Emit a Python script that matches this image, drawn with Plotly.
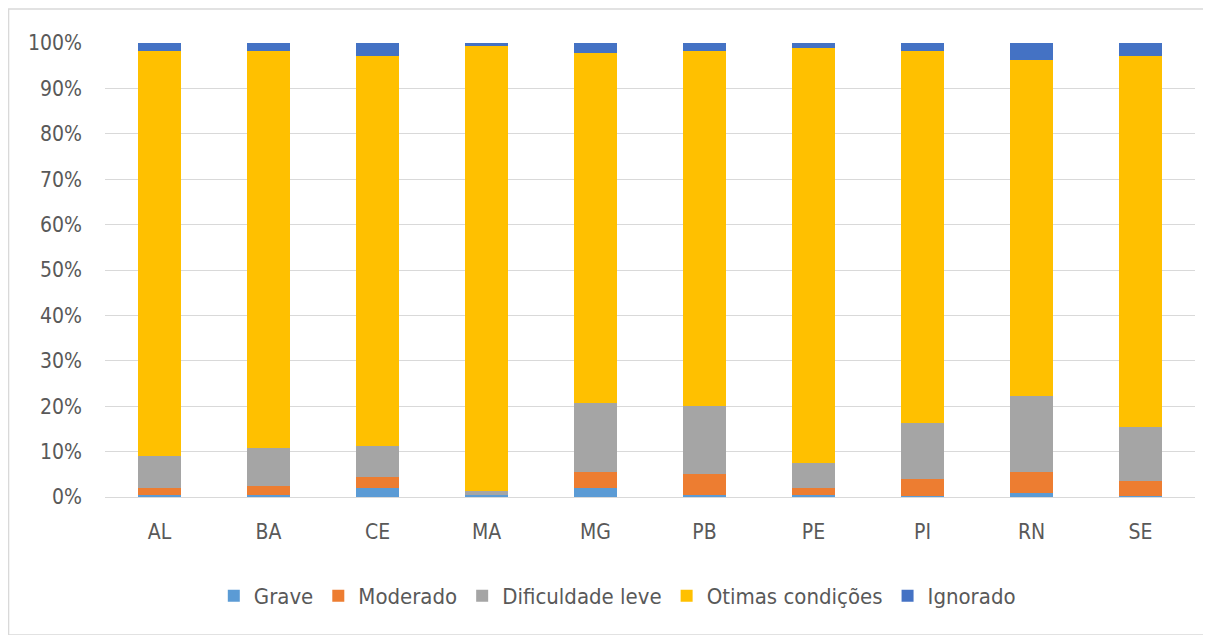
import plotly.graph_objects as go

states = ["AL", "BA", "CE", "MA", "MG", "PB", "PE", "PI", "RN", "SE"]
grave = [0.4, 0.4, 1.9, 0.4, 1.9, 0.4, 0.4, 0.3, 0.8, 0.3]
moderado = [1.5, 2.0, 2.6, 0.0, 3.7, 4.6, 1.5, 3.7, 4.8, 3.2]
dificuldade = [7.2, 8.3, 6.7, 0.9, 15.0, 15.1, 5.7, 12.4, 16.6, 11.9]
otimas = [89.2, 87.6, 86.0, 98.0, 77.2, 78.1, 91.2, 81.9, 74.1, 81.8]
ignorado = [1.7, 1.7, 2.8, 0.7, 2.2, 1.8, 1.2, 1.7, 3.7, 2.8]

series = [
    ("Grave", grave, "#5B9BD5"),
    ("Moderado", moderado, "#ED7D31"),
    ("Dificuldade leve", dificuldade, "#A5A5A5"),
    ("Otimas condições", otimas, "#FFC000"),
    ("Ignorado", ignorado, "#4472C4"),
]

fig = go.Figure()
for name, vals, color in series:
    fig.add_trace(go.Bar(
        x=states, y=[v / 100 for v in vals], name=name,
        marker=dict(color=color, line=dict(width=0)),
    ))

font_family = "Liberation Sans Narrow, DejaVu Sans Condensed, Open Sans, sans-serif"
fig.update_layout(
    barmode="stack",
    barnorm="fraction",
    bargap=0.6,
    width=1211, height=635,
    margin=dict(l=97, r=24, t=35, b=146),
    plot_bgcolor="white",
    paper_bgcolor="white",
    font=dict(family=font_family, color="#595959", size=21),
    xaxis=dict(showgrid=False, showline=True, linecolor="#D9D9D9", linewidth=1,
               ticks="", tickfont=dict(size=21), ticklabelstandoff=16),
    yaxis=dict(range=[0, 1], tickformat=".0%", dtick=0.1, showgrid=True,
               gridcolor="#D9D9D9", gridwidth=1, zeroline=False, showline=False,
               ticks="", tickfont=dict(size=21), ticklabelstandoff=22),
    legend=dict(orientation="h", x=0.47, xanchor="center", y=-0.218, yanchor="middle",
                font=dict(size=22), traceorder="normal", itemwidth=30),
    shapes=[dict(type="rect", xref="paper", yref="paper",
                 x0=-0.0885, x1=1.03, y0=-0.304, y1=1.075,
                 line=dict(color="#D9D9D9", width=1.5), fillcolor="rgba(0,0,0,0)",
                 layer="below")],
)

fig.write_html("out.html")
